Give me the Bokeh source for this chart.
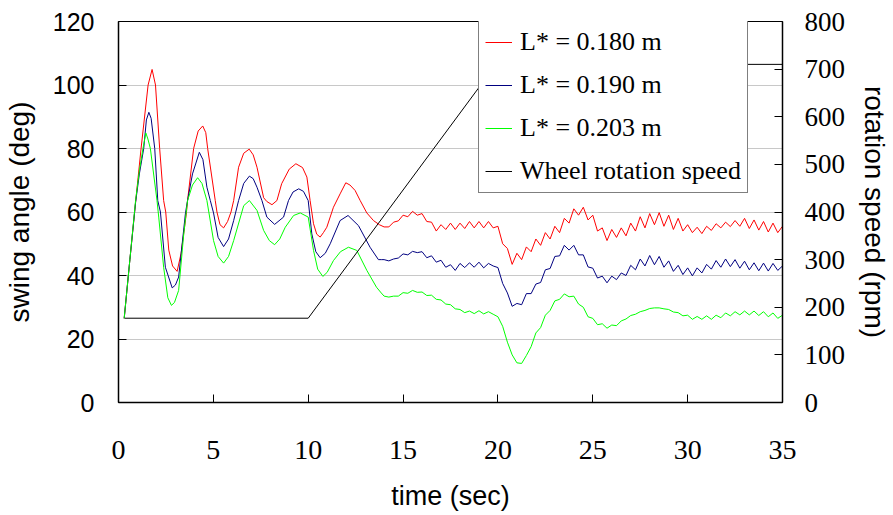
from bokeh.plotting import figure
from bokeh.models import Range1d, LinearAxis, FixedTicker, Legend, LegendItem
from bokeh.embed import file_html
from bokeh.resources import INLINE

# ---------------- data ----------------
x_ticks = [0, 5, 10, 15, 20, 25, 30, 35]
angle_ticks = [0, 20, 40, 60, 80, 100, 120]
rpm_ticks = [0, 100, 200, 300, 400, 500, 600, 700, 800]

labels = ["L* = 0.180 m", "L* = 0.190 m", "L* = 0.203 m", "Wheel rotation speed"]

red_early_t = [0.3, 0.6, 0.9, 1.19, 1.56, 1.77, 1.95, 2.17, 2.38, 2.49, 2.65, 2.85, 3.09, 3.3, 3.58,
               3.64, 3.96, 4.2, 4.44, 4.6, 4.7, 5.1, 5.19, 5.35, 5.54, 5.75, 5.93, 6.07, 6.33, 6.6,
               6.89, 7.1, 7.3, 7.65, 7.82, 8.09, 8.35, 8.6, 9.0, 9.35, 9.7, 9.93, 10.1, 10.28, 10.45,
               10.63, 10.8, 10.98, 11.33, 11.68, 11.98, 12.2, 12.47, 12.74, 13.09, 13.44, 13.75]
red_early_v = [26.5, 45, 63, 80, 100, 104.9, 100, 80, 63.6, 60, 48, 43, 41.3, 47, 59.7,
               63.6, 80, 85.5, 87.1, 85, 80, 63.6, 60, 56, 55, 57, 60, 63.6, 74.1, 78.5,
               79.8, 78, 74.1, 64.5, 63.3, 62.3, 63.6, 68.9, 73.5, 75.2, 74, 71, 63.6, 56.3, 53,
               52.1, 53.5, 55.2, 61.5, 65.7, 69.2, 68.5, 66.8, 63.6, 59.7, 57.3, 56]

blue_early_t = [0.3, 0.6, 0.9, 1.1, 1.33, 1.47, 1.6, 1.72, 1.91, 2.07, 2.21, 2.47, 2.83, 3.0, 3.17,
                3.53, 3.64, 3.9, 4.26, 4.45, 4.66, 4.84, 5.01, 5.25, 5.54, 5.8, 6.07, 6.33, 6.6, 6.9,
                7.1, 7.3, 7.56, 7.82, 8.23, 8.7, 8.96, 9.2, 9.5, 9.75, 10.0, 10.19, 10.4, 10.63, 10.9,
                11.16, 11.68, 12.1, 12.65, 13.26, 13.7, 13.85]
blue_early_v = [26.5, 45, 63, 72, 80, 89, 91.4, 89.5, 80, 63.6, 60, 42.6, 36.1, 37, 39.5,
                59.7, 63.6, 72, 78.8, 76.5, 67.8, 63.6, 59.7, 52, 49.1, 51.5, 57.3, 63.6, 69, 71.3,
                70.5, 67.8, 63.6, 58.4, 56.1, 58.4, 63.6, 66.3, 67.3, 66.5, 63.6, 53.1, 47.5, 45.6, 47,
                50, 57.3, 58.9, 55.7, 48.9, 45, 45]

green_early_t = [0.3, 0.6, 0.9, 1.1, 1.29, 1.44, 1.55, 1.68, 2.03, 2.12, 2.38, 2.6, 2.79, 2.95, 3.17,
                 3.44, 3.64, 3.9, 4.17, 4.4, 4.66, 5.01, 5.25, 5.54, 5.8, 6.07, 6.6, 6.9, 7.3, 7.65,
                 7.95, 8.23, 8.5, 8.79, 9.23, 9.58, 10.0, 10.28, 10.5, 10.77, 11.0, 11.33, 11.7, 12.12,
                 12.56, 13.09, 13.6, 13.85]
green_early_v = [26.5, 45, 63.6, 73, 80, 84.9, 83, 80, 63.6, 58.4, 42.6, 33, 30.6, 31.5, 35.3,
                 53.1, 63.6, 68.5, 70.8, 69, 63.6, 51, 46, 43.9, 46, 51, 62, 63.6, 60.5, 54.2,
                 51, 49.7, 51.5, 55.2, 58.9, 59.7, 58.4, 47.9, 42, 39.7, 41, 44.7, 47.5, 48.9,
                 47.9, 41.6, 36.3, 34.5]

# later part, sampled every 0.25 s from t = 14.0 s
late_start = 14.0
late_step = 0.25
red_late = [55.3, 55.3, 56.8, 57.2, 59.0, 58.5, 60.2, 59.0, 59.5, 57.0,
            56.8, 54.0, 56.0, 54.5, 56.5, 54.5, 56.5, 54.8, 57.0, 55.0,
            57.0, 55.0, 57.0, 55.0, 55.5, 50.0, 48.5, 43.5, 47.0, 45.0,
            49.0, 47.5, 51.5, 49.5, 53.5, 51.5, 55.5, 53.5, 58.0, 56.5,
            61.0, 59.0, 61.5, 57.5, 59.0, 54.0, 55.0, 51.0, 54.5, 52.0,
            55.0, 52.5, 56.5, 54.0, 58.5, 55.0, 59.5, 56.0, 59.8, 55.5,
            59.0, 54.5, 58.0, 54.0, 56.0, 53.5, 55.2, 53.2, 55.5, 54.2,
            56.3, 55.0, 56.8, 55.4, 57.3, 55.5, 58.0, 54.8, 57.5, 54.3,
            57.0, 53.7, 56.5, 53.5, 55.5]
blue_late = [45.0, 44.6, 45.2, 45.5, 46.8, 46.5, 47.6, 47.2, 47.5, 45.6,
             46.2, 44.2, 44.8, 42.6, 43.4, 41.6, 43.8, 42.5, 44.0, 42.6,
             44.2, 42.4, 43.8, 43.0, 42.5, 37.5, 34.5, 30.3, 31.2, 30.8,
             34.3, 34.3, 37.3, 37.8, 41.8, 42.2, 46.0, 46.2, 49.5, 48.0,
             49.5, 46.5, 46.5, 42.7, 42.3, 39.2, 39.8, 37.7, 39.8, 38.7,
             40.8, 40.0, 43.2, 41.8, 45.2, 43.0, 46.3, 43.4, 46.0, 42.6,
             44.6, 41.3, 43.2, 40.3, 42.4, 39.9, 42.4, 40.8, 43.5, 42.0,
             44.7, 42.6, 45.2, 42.8, 45.0, 42.3, 44.5, 41.8, 44.0, 41.5,
             43.9, 41.4, 43.8, 41.6, 43.0]
green_late = [33.5, 33.2, 33.5, 33.5, 34.6, 34.4, 35.3, 34.7, 34.8, 33.7,
              33.8, 32.5, 32.3, 31.0, 30.8, 29.5, 29.3, 28.3, 28.8, 28.0,
              28.9, 27.9, 28.6, 27.8, 27.0, 24.0, 19.0, 15.0, 12.5, 12.3,
              14.8, 17.6, 21.9, 23.6, 27.5, 29.0, 32.0, 32.5, 34.2, 33.3,
              33.5, 31.0, 30.0, 27.0, 26.5, 24.5, 24.8, 23.4, 24.4, 24.2,
              25.7, 26.3, 27.4, 27.8, 28.6, 29.0, 29.6, 29.8, 29.8, 29.5,
              29.3, 28.5, 28.3, 27.3, 27.5, 26.2, 27.1, 26.2, 27.3, 26.2,
              27.5, 26.7, 28.2, 27.3, 28.6, 27.6, 28.8, 27.6, 28.8, 27.4,
              28.6, 27.0, 28.2, 26.5, 27.5]

wheel_t = [0.33, 10.0, 19.9, 35.0]
wheel_rpm = [177, 177, 710, 710]


def late_times(vals):
    return [late_start + late_step * i for i in range(len(vals))]


red_t = red_early_t + late_times(red_late)
red_v = red_early_v + red_late
blue_t = blue_early_t + late_times(blue_late)
blue_v = blue_early_v + blue_late
green_t = green_early_t + late_times(green_late)
green_v = green_early_v + green_late

# ---------------- figure ----------------
SANS = "Liberation Sans"
SERIF = "Liberation Serif"

p = figure(width=893, height=515, output_backend="svg", toolbar_location=None,
           x_range=Range1d(0, 35), y_range=Range1d(0, 120),
           min_border_left=118, min_border_right=111, min_border_top=21, min_border_bottom=113)
p.extra_y_ranges = {"rpm": Range1d(0, 800)}
p.background_fill_color = "white"
p.border_fill_color = "white"
p.outline_line_color = "black"
p.outline_line_width = 1

p.xgrid.visible = False
p.ygrid.grid_line_color = "#c8c8c8"
p.ygrid.grid_line_width = 1

# bottom axis
xa = p.xaxis[0]
xa.ticker = FixedTicker(ticks=x_ticks)
xa.axis_label = "time (sec)"
xa.major_label_text_font = SERIF
xa.major_label_text_font_size = "28px"
xa.major_label_standoff = 38
xa.axis_label_text_font = SANS
xa.axis_label_text_font_size = "27px"
xa.axis_label_text_font_style = "normal"
xa.axis_label_standoff = 19

# left axis
ya = p.yaxis[0]
ya.ticker = FixedTicker(ticks=angle_ticks)
ya.axis_label = "swing angle (deg)"
ya.major_label_text_font = SANS
ya.major_label_text_font_size = "25px"
ya.major_label_standoff = 24
ya.axis_label_text_font = SANS
ya.axis_label_text_font_size = "28px"
ya.axis_label_text_font_style = "normal"
ya.axis_label_standoff = 15

# right axis
ra = LinearAxis(y_range_name="rpm", ticker=FixedTicker(ticks=rpm_ticks),
                axis_label="rotation speed (rpm)")
ra.major_label_text_font = SERIF
ra.major_label_text_font_size = "27px"
ra.major_label_standoff = 22
ra.axis_label_text_font = SANS
ra.axis_label_text_font_size = "28px"
ra.axis_label_text_font_style = "normal"
ra.axis_label_standoff = 11
p.add_layout(ra, "right")

for ax in [xa, ya, ra]:
    ax.major_tick_in = 8
    ax.major_tick_out = 0
    ax.minor_tick_in = 0
    ax.minor_tick_out = 0
    ax.axis_line_color = "black"
    ax.axis_line_width = 1.5
    ax.major_tick_line_color = "black"
    ax.major_label_text_color = "black"
    ax.axis_label_text_color = "black"

r_red = p.line(red_t, red_v, line_color="#ff0000", line_width=1)
r_blue = p.line(blue_t, blue_v, line_color="#000080", line_width=1)
r_green = p.line(green_t, green_v, line_color="#00ff00", line_width=1)
r_wheel = p.line(wheel_t, wheel_rpm, y_range_name="rpm", line_color="black", line_width=1)

legend = Legend(items=[LegendItem(label=labels[0], renderers=[r_red]),
                       LegendItem(label=labels[1], renderers=[r_blue]),
                       LegendItem(label=labels[2], renderers=[r_green]),
                       LegendItem(label=labels[3], renderers=[r_wheel])],
                location=(360, 209))
legend.label_text_font = SERIF
legend.label_text_font_size = "26px"
legend.label_text_color = "black"
legend.glyph_width = 27
legend.glyph_height = 30
legend.label_height = 30
legend.spacing = 13
legend.padding = 6
legend.margin = 0
legend.label_standoff = 8
legend.border_line_color = "black"
legend.border_line_width = 1
legend.background_fill_color = "white"
legend.background_fill_alpha = 1
p.add_layout(legend)

open("out.html", "w").write(file_html(p, INLINE))
